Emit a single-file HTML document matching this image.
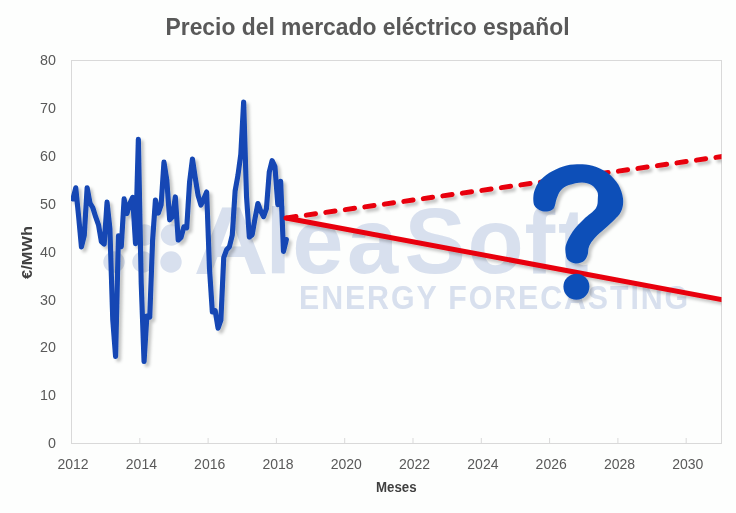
<!DOCTYPE html>
<html><head><meta charset="utf-8">
<style>
html,body{margin:0;padding:0;background:#fdfefd;}
svg{display:block;will-change:transform;font-family:"Liberation Sans",sans-serif;}
</style></head><body>
<svg width="736" height="513" viewBox="0 0 736 513">
<defs>
<filter id="sh" x="-10%" y="-10%" width="130%" height="130%">
<feGaussianBlur in="SourceAlpha" stdDeviation="1.8"/>
<feOffset dx="3" dy="2.5" result="b"/>
<feFlood flood-color="#000" flood-opacity="0.22"/>
<feComposite in2="b" operator="in"/>
<feMerge><feMergeNode/><feMergeNode in="SourceGraphic"/></feMerge>
</filter>
<clipPath id="pc"><rect x="71" y="60" width="650.5" height="383.5"/></clipPath>
</defs>
<rect width="736" height="513" fill="#fdfefd"/>
<text x="367.5" y="35.1" text-anchor="middle" font-size="23" font-weight="bold" fill="#595959" textLength="404" lengthAdjust="spacingAndGlyphs">Precio del mercado eléctrico español</text>
<rect x="71.5" y="60.5" width="650" height="383" fill="none" stroke="#d9d9d9" stroke-width="1"/>
<g stroke="#d9d9d9" stroke-width="1"><line x1="139.80" y1="438" x2="139.80" y2="443.5"/><line x1="208.10" y1="438" x2="208.10" y2="443.5"/><line x1="276.40" y1="438" x2="276.40" y2="443.5"/><line x1="344.70" y1="438" x2="344.70" y2="443.5"/><line x1="413.00" y1="438" x2="413.00" y2="443.5"/><line x1="481.30" y1="438" x2="481.30" y2="443.5"/><line x1="549.60" y1="438" x2="549.60" y2="443.5"/><line x1="617.90" y1="438" x2="617.90" y2="443.5"/><line x1="686.20" y1="438" x2="686.20" y2="443.5"/></g>
<g font-size="14.3" fill="#595959" text-anchor="end"><text x="56" y="448.20">0</text><text x="56" y="400.30">10</text><text x="56" y="352.40">20</text><text x="56" y="304.50">30</text><text x="56" y="256.60">40</text><text x="56" y="208.70">50</text><text x="56" y="160.80">60</text><text x="56" y="112.90">70</text><text x="56" y="65.00">80</text></g>
<g font-size="14" fill="#595959" text-anchor="middle"><text x="73.10" y="469">2012</text><text x="141.40" y="469">2014</text><text x="209.70" y="469">2016</text><text x="278.00" y="469">2018</text><text x="346.30" y="469">2020</text><text x="414.60" y="469">2022</text><text x="482.90" y="469">2024</text><text x="551.20" y="469">2026</text><text x="619.50" y="469">2028</text><text x="687.80" y="469">2030</text></g>
<text transform="translate(32.3,252.5) rotate(-90)" x="-26.5" font-size="14" font-weight="bold" fill="#404040" textLength="53" lengthAdjust="spacingAndGlyphs">€/MWh</text>
<text x="376" y="491.7" font-size="14" font-weight="bold" fill="#404040" textLength="40.6" lengthAdjust="spacingAndGlyphs">Meses</text>
<!-- watermark -->
<g fill="#d8e0ee">
<circle cx="114" cy="262" r="10.7"/><circle cx="143" cy="262" r="10.7"/><circle cx="171" cy="262" r="10.7"/>
<circle cx="144.5" cy="235" r="10.7"/><circle cx="171.5" cy="235" r="10.7"/>
<text transform="translate(230.7,273.6) scale(1.13,1.055)" x="-33" font-size="92" font-weight="bold">A</text>
<text y="273" font-size="92" font-weight="bold"><tspan x="265.6">l</tspan><tspan x="292.3">e</tspan><tspan x="346.9">a</tspan><tspan x="404.5">S</tspan><tspan x="467.5">o</tspan><tspan x="524.4">f</tspan><tspan x="557.9">t</tspan></text>
<text transform="translate(299,308.5) scale(0.92,1)" font-size="33" font-weight="bold" textLength="423" lengthAdjust="spacing">ENERGY FORECASTING</text>
</g>
<g clip-path="url(#pc)" filter="url(#sh)">
<polyline points="72.90,199.01 75.75,187.79 78.59,216.06 81.44,246.90 84.28,235.40 87.13,187.69 89.98,203.02 92.82,207.70 95.67,216.92 98.51,224.80 101.36,241.60 104.20,244.13 107.05,202.16 109.90,228.62 112.74,319.53 115.59,356.54 118.43,235.83 121.28,246.67 124.12,198.87 126.97,213.57 129.82,203.59 132.66,197.44 135.51,243.66 138.35,139.42 141.20,282.76 144.05,361.55 146.89,315.95 149.74,317.05 152.58,240.79 155.43,200.01 158.28,213.10 161.12,204.98 163.97,162.10 166.81,180.20 169.66,219.83 172.50,216.63 175.35,196.91 178.20,240.03 181.04,237.35 183.89,226.80 186.73,227.85 189.58,181.96 192.43,158.95 195.27,177.86 198.12,195.57 200.96,205.03 203.81,198.82 206.65,191.99 209.50,268.87 212.35,311.99 215.19,310.56 218.04,328.17 220.88,320.25 223.73,257.55 226.57,249.77 229.42,246.76 232.27,235.16 235.11,191.04 237.96,175.28 240.80,154.46 243.65,101.94 246.50,196.24 249.34,237.07 252.19,234.68 255.03,218.35 257.88,203.50 260.73,211.09 263.57,216.68 266.42,208.61 269.26,172.22 272.11,160.67 274.95,166.64 277.80,204.65 280.65,181.25 283.49,251.44 286.34,239.55" fill="none" stroke="#1246b4" stroke-width="5.1" stroke-linejoin="round" stroke-linecap="round"/>
<line x1="286" y1="218" x2="740" y2="303" stroke="#e8000b" stroke-width="5" stroke-linecap="round"/>
<line x1="286" y1="218" x2="740" y2="154" stroke="#e8000b" stroke-width="5" stroke-linecap="round" stroke-dasharray="9.3 10.4" stroke-dashoffset="-0.8"/>
</g>
<g filter="url(#sh)">
<path d="M546.7,211.5 C544.4,211.8 541.8,211.3 539.7,210.3 C537.7,209.3 535.5,207.8 534.4,205.6 C533.3,203.4 533.2,200.1 533.3,197.4 C533.4,194.7 533.9,191.9 535.0,189.2 C536.1,186.5 537.4,183.7 539.7,181.0 C542.0,178.3 545.1,175.3 549.0,172.9 C552.9,170.5 558.4,167.8 563.1,166.4 C567.8,165.0 572.1,164.4 577.0,164.3 C581.9,164.2 587.4,164.4 592.5,165.8 C597.6,167.2 603.4,169.8 607.7,172.9 C612.0,176.0 615.8,180.3 618.3,184.6 C620.8,188.9 622.5,194.3 623.0,198.6 C623.5,202.9 623.0,206.8 621.5,210.5 C620.0,214.2 618.0,216.1 613.7,220.5 C609.4,224.9 600.0,232.5 595.9,236.8 C591.8,241.1 590.5,243.4 589.1,246.4 C587.7,249.4 588.6,252.2 587.7,254.6 C586.9,257.0 586.0,259.5 584.0,261.0 C582.0,262.5 578.2,263.6 575.5,263.4 C572.8,263.2 569.6,261.5 568.0,260.0 C566.4,258.5 566.2,257.1 565.9,254.6 C565.5,252.1 564.8,248.9 565.9,245.0 C567.0,241.1 569.7,235.7 572.7,231.4 C575.7,227.1 580.1,222.9 584.0,219.0 C587.9,215.1 593.6,211.6 595.9,208.2 C598.2,204.8 597.6,201.4 597.8,198.6 C598.0,195.8 598.3,193.8 597.2,191.6 C596.1,189.3 593.9,186.6 591.4,185.1 C588.9,183.6 585.8,182.5 582.0,182.5 C578.2,182.5 572.4,183.8 568.9,185.1 C565.4,186.4 562.7,188.2 560.7,190.4 C558.7,192.7 557.9,195.6 556.7,198.6 C555.5,201.6 555.4,206.3 553.7,208.5 C552.0,210.7 549.0,211.2 546.7,211.5Z" fill="#1050b8"/>
<circle cx="576.4" cy="286.7" r="13" fill="#1050b8"/>
</g>
</svg>
</body></html>
